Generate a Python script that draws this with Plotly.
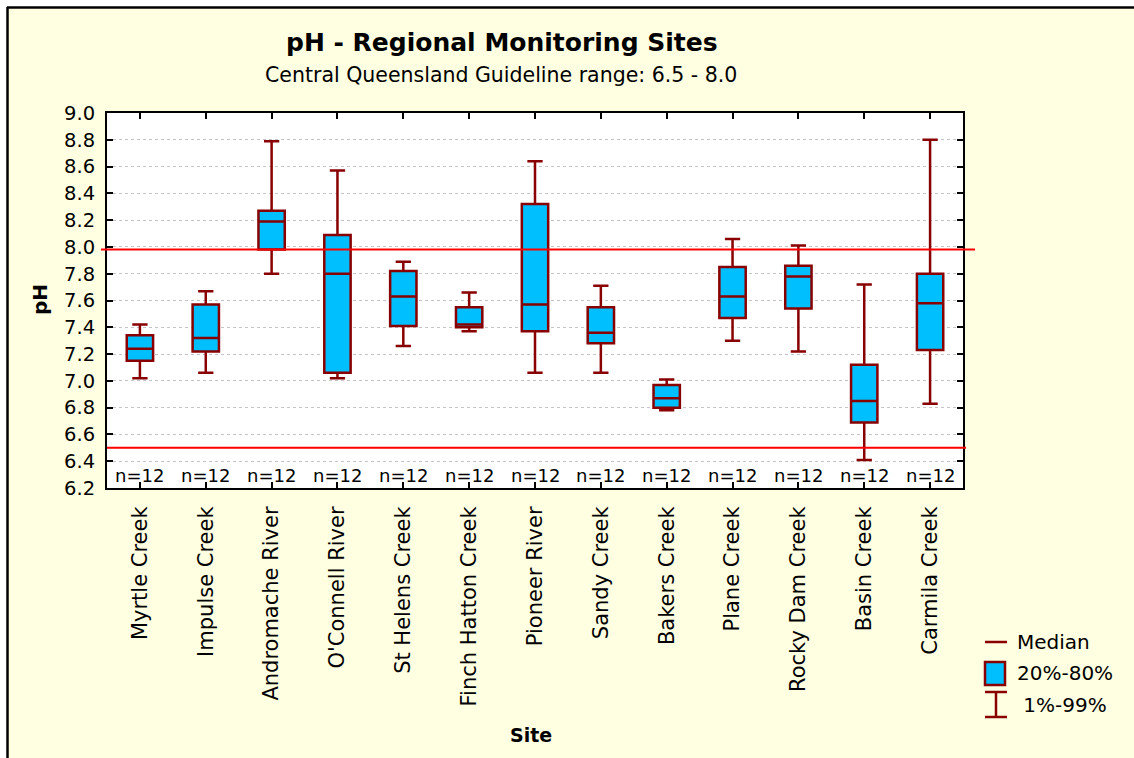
import plotly.graph_objects as go

# ---------------- data ----------------
sites = ["Myrtle Creek", "Impulse Creek", "Andromache River", "O'Connell River",
         "St Helens Creek", "Finch Hatton Creek", "Pioneer River", "Sandy Creek",
         "Bakers Creek", "Plane Creek", "Rocky Dam Creek", "Basin Creek", "Carmila Creek"]
p01 = [7.02, 7.06, 7.80, 7.02, 7.26, 7.37, 7.06, 7.06, 6.78, 7.30, 7.22, 6.41, 6.83]
p20 = [7.15, 7.22, 7.98, 7.06, 7.41, 7.40, 7.37, 7.28, 6.80, 7.47, 7.54, 6.69, 7.23]
med = [7.24, 7.32, 8.19, 7.80, 7.63, 7.42, 7.57, 7.36, 6.87, 7.63, 7.78, 6.85, 7.58]
p80 = [7.34, 7.57, 8.27, 8.09, 7.82, 7.55, 8.32, 7.55, 6.97, 7.85, 7.86, 7.12, 7.80]
p99 = [7.42, 7.67, 8.79, 8.57, 7.89, 7.66, 8.64, 7.71, 7.01, 8.06, 8.01, 7.72, 8.80]
n_obs = [12, 12, 12, 12, 12, 12, 12, 12, 12, 12, 12, 12, 12]
guide_low = 6.5
guide_high = 7.98
n_label_y = 6.29

title = "pH - Regional Monitoring Sites"
subtitle = "Central Queensland Guideline range: 6.5 - 8.0"
legend_labels = ["Median", "20%-80%", " 1%-99%"]

# ---------------- styling ----------------
W, H = 1134, 758
L, R, T, B = 107, 963, 113, 488
BOX_FILL = "#00BFFF"
BOX_LINE = "#880000"
CREAM = "#FFFFE1"
FONT = "DejaVu Sans"


def px(x):
    return (x - L) / (R - L)


def py(y):
    return (B - y) / (B - T)


fig = go.Figure()
fig.add_trace(go.Box(
    x=sites, q1=p20, median=med, q3=p80, lowerfence=p01, upperfence=p99,
    width=0.4, whiskerwidth=0.58, boxpoints=False,
    fillcolor=BOX_FILL, line=dict(color=BOX_LINE, width=2.5),
    showlegend=False, hoverinfo="skip",
))

shapes = []
# background frame
shapes.append(dict(type="rect", xref="paper", yref="paper", x0=px(0), x1=px(W), y0=py(0), y1=py(7),
                   fillcolor="white", line=dict(width=0), layer="below"))
shapes.append(dict(type="rect", xref="paper", yref="paper", x0=px(0), x1=px(7), y0=py(0), y1=py(H),
                   fillcolor="white", line=dict(width=0), layer="below"))
shapes.append(dict(type="line", xref="paper", yref="paper", x0=px(7), x1=px(W), y0=py(7.5), y1=py(7.5),
                   line=dict(color="black", width=2.5)))
shapes.append(dict(type="line", xref="paper", yref="paper", x0=px(7.5), x1=px(7.5), y0=py(7), y1=py(H),
                   line=dict(color="black", width=2.5)))
# guideline lines
shapes.append(dict(type="line", xref="x domain", yref="y", x0=px(101), x1=px(975),
                   y0=guide_high, y1=guide_high, line=dict(color="#FF0000", width=2), layer="above"))
shapes.append(dict(type="line", xref="x domain", yref="y", x0=px(107), x1=px(966),
                   y0=guide_low, y1=guide_low, line=dict(color="#FF0000", width=2), layer="above"))
# legend symbols
shapes.append(dict(type="line", xref="paper", yref="paper", x0=px(985), x1=px(1007), y0=py(642), y1=py(642),
                   line=dict(color=BOX_LINE, width=2.5)))
shapes.append(dict(type="rect", xref="paper", yref="paper", x0=px(985), x1=px(1005), y0=py(685), y1=py(662),
                   fillcolor=BOX_FILL, line=dict(color=BOX_LINE, width=2.5)))
shapes.append(dict(type="line", xref="paper", yref="paper", x0=px(996), x1=px(996), y0=py(692), y1=py(717),
                   line=dict(color=BOX_LINE, width=2.5)))
shapes.append(dict(type="line", xref="paper", yref="paper", x0=px(985), x1=px(1007), y0=py(692), y1=py(692),
                   line=dict(color=BOX_LINE, width=2.5)))
shapes.append(dict(type="line", xref="paper", yref="paper", x0=px(985), x1=px(1007), y0=py(717), y1=py(717),
                   line=dict(color=BOX_LINE, width=2.5)))

annotations = []
annotations.append(dict(text="<b>" + title + "</b>", xref="paper", yref="paper", x=px(502), y=py(43),
                        xanchor="center", yanchor="middle", showarrow=False,
                        font=dict(family=FONT, size=25, color="black")))
annotations.append(dict(text=subtitle, xref="paper", yref="paper", x=px(501), y=py(75),
                        xanchor="center", yanchor="middle", showarrow=False,
                        font=dict(family=FONT, size=20.5, color="black")))
annotations.append(dict(text="<b>pH</b>", xref="paper", yref="paper", x=px(40), y=py(300),
                        xanchor="center", yanchor="middle", showarrow=False, textangle=-90,
                        font=dict(family=FONT, size=20, color="black")))
annotations.append(dict(text="<b>Site</b>", xref="paper", yref="paper", x=px(531), y=py(735),
                        xanchor="center", yanchor="middle", showarrow=False,
                        font=dict(family=FONT, size=19, color="black")))
for s, n in zip(sites, n_obs):
    annotations.append(dict(text="n=%d" % n, xref="x", yref="y", x=s, y=n_label_y,
                            xanchor="center", yanchor="middle", showarrow=False,
                            font=dict(family=FONT, size=18, color="black")))
for lab, yy, xx in zip(legend_labels, [642, 673, 705], [1015, 1015, 1015]):
    annotations.append(dict(text=lab, xref="paper", yref="paper", x=px(xx), y=py(yy),
                            xanchor="left", yanchor="middle", showarrow=False,
                            font=dict(family=FONT, size=20, color="black")))

fig.update_layout(
    width=W, height=H, autosize=False,
    margin=dict(l=L, r=W - R, t=T, b=H - B, pad=0),
    paper_bgcolor=CREAM, plot_bgcolor="white",
    showlegend=False,
    shapes=shapes, annotations=annotations,
    xaxis=dict(type="category", range=[-0.5, len(sites) - 0.5],
               showline=True, linecolor="black", linewidth=2, mirror="ticks",
               ticks="inside", ticklen=6, tickwidth=1.5, tickcolor="black",
               tickangle=-90, ticklabelstandoff=8,
               tickfont=dict(family=FONT, size=21, color="black"),
               showgrid=False, zeroline=False, fixedrange=True),
    yaxis=dict(range=[6.2, 9.0], tick0=6.2, dtick=0.2, tickformat=".1f",
               showline=True, linecolor="black", linewidth=2, mirror="ticks",
               ticks="inside", ticklen=6, tickwidth=1.5, tickcolor="black",
               ticklabelstandoff=6,
               tickfont=dict(family=FONT, size=19.5, color="black"),
               showgrid=True, gridcolor="#C4C4C4", gridwidth=1, griddash="3px,3px",
               zeroline=False, fixedrange=True),
)

fig.write_html("out.html", config={"displayModeBar": False},
               post_script="document.body.style.margin='0';document.body.style.overflow='hidden';")
